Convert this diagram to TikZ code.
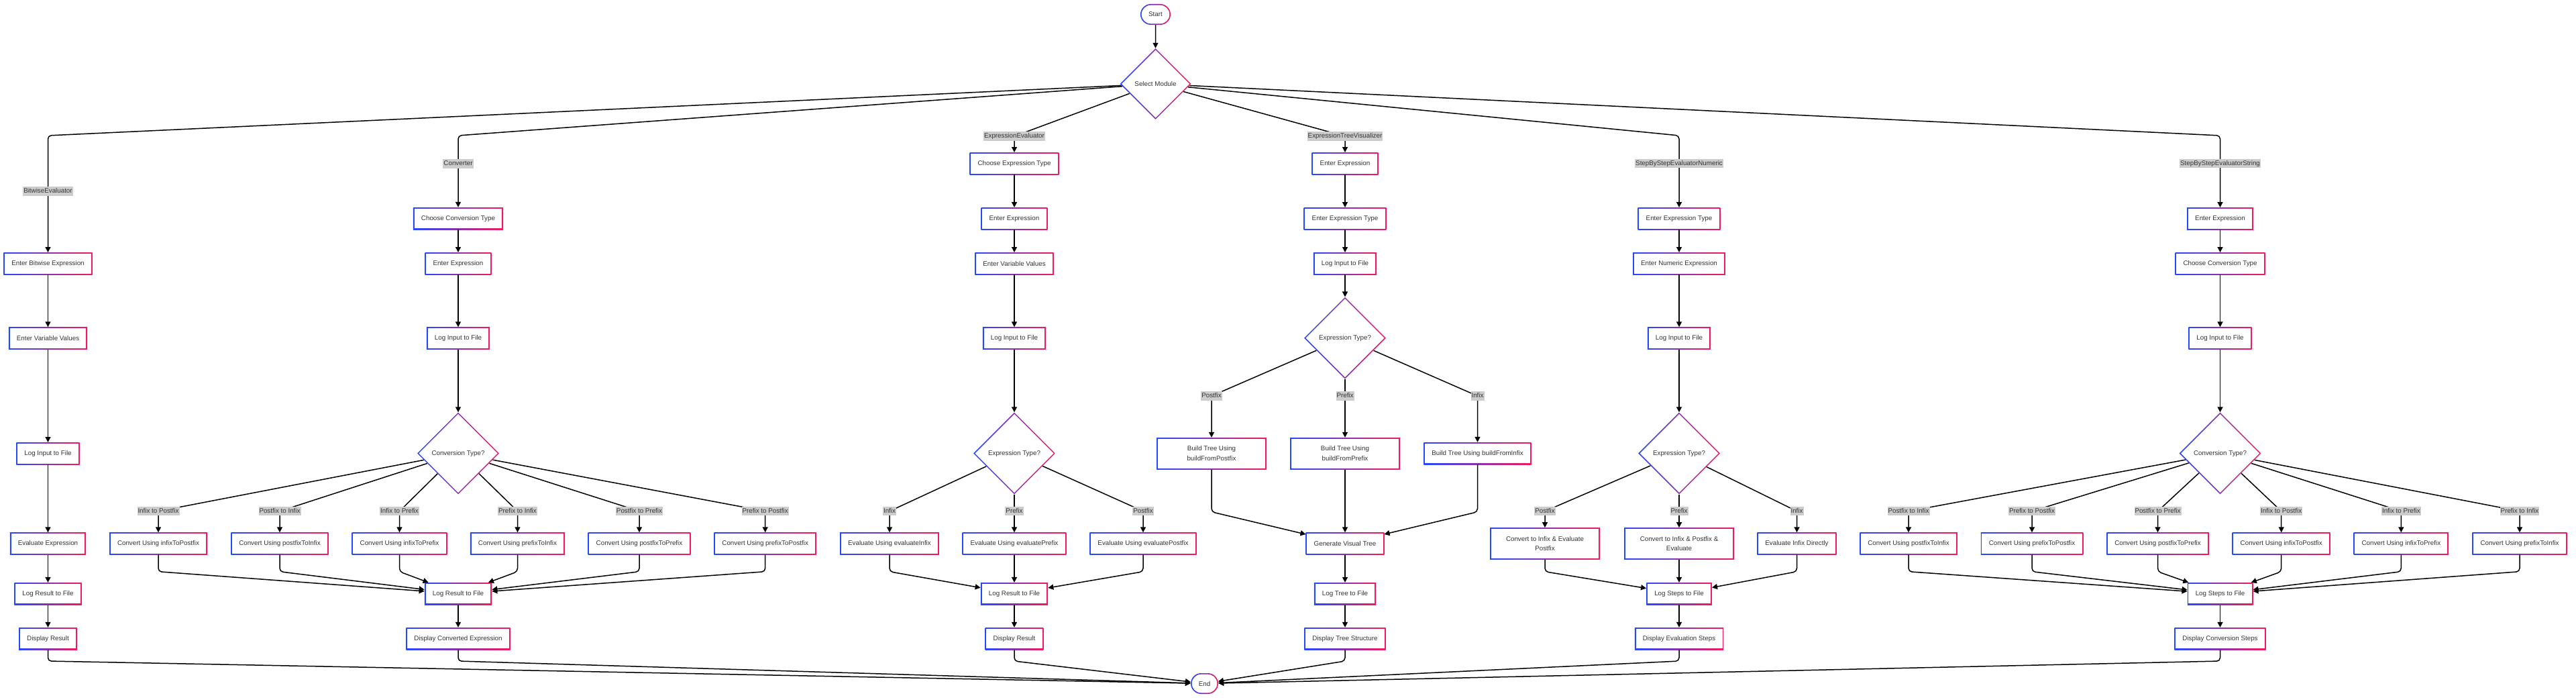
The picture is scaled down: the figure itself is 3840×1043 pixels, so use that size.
\documentclass[tikz,border=0pt]{standalone}
\usepackage{fontspec}
\setmainfont{Liberation Sans}
\usetikzlibrary{shapes.geometric,shapes.misc,arrows.meta}
\definecolor{cblue}{HTML}{2448FF}
\definecolor{cred}{HTML}{F5195A}
\definecolor{txt}{HTML}{333333}
\definecolor{lgray}{HTML}{CCCCCC}
\newcommand{\nf}{\fontsize{9.8}{14.7}\selectfont}
\tikzset{
 gbox/.style={rectangle, minimum height=33pt, inner xsep=12pt, inner ysep=3pt, font=\nf, text=txt, align=center,
   left color=cblue, right color=cred,
   path picture={\fill[white] ([shift={(1.7pt,1.7pt)}]path picture bounding box.south west) rectangle ([shift={(-1.7pt,-1.7pt)}]path picture bounding box.north east);}},
 tall/.style={minimum height=47.3pt, minimum width=164pt},
 gdia/.style={diamond, aspect=1, minimum width=122pt, minimum height=122pt, inner sep=0pt, font=\nf, text=txt,
   left color=cblue, right color=cred,
   path picture={\fill[white] ([yshift=-2.4pt]path picture bounding box.north) -- ([xshift=-2.4pt]path picture bounding box.east) -- ([yshift=2.4pt]path picture bounding box.south) -- ([xshift=2.4pt]path picture bounding box.west) -- cycle;}},
 gterm/.style={rounded rectangle, minimum height=31pt, inner xsep=2pt, font=\nf, text=txt,
   left color=cblue, right color=cred,
   path picture={\fill[white, rounded corners=13.8pt] ([shift={(1.7pt,1.7pt)}]path picture bounding box.south west) rectangle ([shift={(-1.7pt,-1.7pt)}]path picture bounding box.north east);}},
 elab/.style={fill=lgray, text=txt, font=\nf, inner xsep=1pt, inner ysep=1.5pt, text height=8pt, text depth=2.4pt},
 arr/.style={draw=black, line width=1.5pt, rounded corners=5pt, -{Triangle[length=8pt,width=8pt]}},
}
\begin{document}
\begin{tikzpicture}[x=1pt,y=-1pt]
\useasboundingbox (0,0) rectangle (3840,1043);
\fill[white] (0,0) rectangle (3840,1043);
% ---------- nodes ----------
\node[gterm, minimum width=49pt] (start) at (1722.5,21.5) {Start};
\node[gdia, minimum width=106pt, minimum height=106pt] (sel) at (1722.5,125) {Select Module};
% A Bitwise
\node[gbox] (A1) at (71.5,392.7) {Enter Bitwise Expression};
\node[gbox] (A2) at (71.5,504) {Enter Variable Values};
\node[gbox] (A3) at (71.5,675.7) {Log Input to File};
\node[gbox] (A4) at (71.5,810) {Evaluate Expression};
\node[gbox] (A5) at (71.5,884.6) {Log Result to File};
\node[gbox] (A6) at (71.5,951.5) {Display Result};
% B Converter
\node[gbox] (B1) at (683,325.5) {Choose Conversion Type};
\node[gbox] (B2) at (683,392.7) {Enter Expression};
\node[gbox] (B3) at (683,504) {Log Input to File};
\node[gdia] (Bd) at (683,675.5) {Conversion Type?};
\node[gbox] (B4a) at (236,810) {Convert Using infixToPostfix};
\node[gbox] (B4b) at (417,810) {Convert Using postfixToInfix};
\node[gbox] (B4c) at (595.5,810) {Convert Using infixToPrefix};
\node[gbox] (B4d) at (771.5,810) {Convert Using prefixToInfix};
\node[gbox] (B4e) at (953,810) {Convert Using postfixToPrefix};
\node[gbox] (B4f) at (1140.7,810) {Convert Using prefixToPostfix};
\node[gbox] (B5) at (683,884.6) {Log Result to File};
\node[gbox] (B6) at (683,951.5) {Display Converted Expression};
% C ExpressionEvaluator
\node[gbox] (C1) at (1512,243.7) {Choose Expression Type};
\node[gbox] (C2) at (1512,325.7) {Enter Expression};
\node[gbox] (C3) at (1512,392.7) {Enter Variable Values};
\node[gbox] (C4) at (1512,504) {Log Input to File};
\node[gdia] (Cd) at (1512,675.5) {Expression Type?};
\node[gbox] (C4a) at (1326,810) {Evaluate Using evaluateInfix};
\node[gbox] (C4b) at (1512,810) {Evaluate Using evaluatePrefix};
\node[gbox] (C4c) at (1704,810) {Evaluate Using evaluatePostfix};
\node[gbox] (C5) at (1512,884.6) {Log Result to File};
\node[gbox] (C6) at (1512,951.5) {Display Result};
% D Tree
\node[gbox] (D1) at (2005,243.7) {Enter Expression};
\node[gbox] (D2) at (2005,325.7) {Enter Expression Type};
\node[gbox] (D3) at (2005,392.7) {Log Input to File};
\node[gdia] (Dd) at (2005,503.7) {Expression Type?};
\node[gbox,tall] (D4a) at (1806,675.7) {Build Tree Using\\buildFromPostfix};
\node[gbox,tall] (D4b) at (2005,675.7) {Build Tree Using\\buildFromPrefix};
\node[gbox] (D4c) at (2202.5,675.5) {Build Tree Using buildFromInfix};
\node[gbox] (D5) at (2005,810) {Generate Visual Tree};
\node[gbox] (D6) at (2005,884.6) {Log Tree to File};
\node[gbox] (D7) at (2005,951.5) {Display Tree Structure};
% E Numeric
\node[gbox] (E1) at (2503,325.7) {Enter Expression Type};
\node[gbox] (E2) at (2503,392.7) {Enter Numeric Expression};
\node[gbox] (E3) at (2503,504) {Log Input to File};
\node[gdia] (Ed) at (2503,675.5) {Expression Type?};
\node[gbox,tall] (E4a) at (2303,810) {Convert to Infix \& Evaluate\\Postfix};
\node[gbox,tall] (E4b) at (2503,810) {Convert to Infix \& Postfix \&\\Evaluate};
\node[gbox] (E4c) at (2678.5,810) {Evaluate Infix Directly};
\node[gbox] (E5) at (2503,884.6) {Log Steps to File};
\node[gbox] (E6) at (2503,951.5) {Display Evaluation Steps};
% F String
\node[gbox] (F1) at (3309.5,325.7) {Enter Expression};
\node[gbox] (F2) at (3309.5,392.7) {Choose Conversion Type};
\node[gbox] (F3) at (3309.5,504) {Log Input to File};
\node[gdia] (Fd) at (3309.5,675.5) {Conversion Type?};
\node[gbox] (F4a) at (2845,810) {Convert Using postfixToInfix};
\node[gbox] (F4b) at (3029,810) {Convert Using prefixToPostfix};
\node[gbox] (F4c) at (3216.5,810) {Convert Using postfixToPrefix};
\node[gbox] (F4d) at (3400.7,810) {Convert Using infixToPostfix};
\node[gbox] (F4e) at (3579.3,810) {Convert Using infixToPrefix};
\node[gbox] (F4f) at (3756,810) {Convert Using prefixToInfix};
\node[gbox] (F5) at (3309.5,884.6) {Log Steps to File};
\node[gbox] (F6) at (3309.5,951.5) {Display Conversion Steps};
% End
\node[gterm, minimum width=45pt] (End) at (1795.5,1018.5) {End};
% ---------- edges ----------
\draw[arr] (start) -- (sel);
\draw[arr] (sel) -- (71.5,202) -- (A1);
\draw[arr] (sel) -- (683,202) -- (B1);
\draw[arr] (sel) -- (1512,203) -- (C1);
\draw[arr] (sel) -- (2005,203) -- (D1);
\draw[arr] (sel) -- (2503,202) -- (E1);
\draw[arr] (sel) -- (3309.5,202) -- (F1);
\foreach \a/\b in {A1/A2,A2/A3,A3/A4,A4/A5,A5/A6,
  B1/B2,B2/B3,B3/Bd,B5/B6,
  C1/C2,C2/C3,C3/C4,C4/Cd,C5/C6,
  D1/D2,D2/D3,D3/Dd,D5/D6,D6/D7,
  E1/E2,E2/E3,E3/Ed,E5/E6,
  F1/F2,F2/F3,F3/Fd,F5/F6}
  {\draw[arr] (\a) -- (\b);}
% diamond branches
\foreach \n/\x in {B4a/236,B4b/417,B4c/595.5,B4d/771.5,B4e/953,B4f/1140.7}
  {\draw[arr] (Bd) -- (\x,761.7) -- (\n);
   \draw[arr] (\n.south) -- (\n.south |- 0,851.7) -- (B5);}
\foreach \n/\x in {C4a/1326,C4b/1512,C4c/1704}
  {\draw[arr] (Cd) -- (\x,761.7) -- (\n);
   \draw[arr] (\n.south) -- (\n.south |- 0,851.7) -- (C5);}
\foreach \n/\x in {D4a/1806,D4b/2005,D4c/2202.5}
  {\draw[arr] (Dd) -- (\x,590) -- (\n);
   \draw[arr] (\n.south) -- (\n.south |- 0,762.7) -- (D5);}
\foreach \n/\x in {E4a/2303,E4b/2503,E4c/2678.5}
  {\draw[arr] (Ed) -- (\x,761.7) -- (\n);
   \draw[arr] (\n.south) -- (\n.south |- 0,851.7) -- (E5);}
\foreach \n/\x in {F4a/2845,F4b/3029,F4c/3216.5,F4d/3400.7,F4e/3579.3,F4f/3756}
  {\draw[arr] (Fd) -- (\x,761.7) -- (\n);
   \draw[arr] (\n.south) -- (\n.south |- 0,851.7) -- (F5);}
\foreach \n in {A6,B6,C6,D7,E6,F6}
  {\draw[arr] (\n.south) -- (\n.south |- 0,985) -- (End);}
% ---------- edge labels ----------
\node[elab] (lA) at (71.5,285) {BitwiseEvaluator};
\node[elab] (lB) at (683,244) {Converter};
\node[elab] (lC) at (1512,203) {ExpressionEvaluator};
\node[elab] (lD) at (2005,203) {ExpressionTreeVisualizer};
\node[elab] (lE) at (2503,243.7) {StepByStepEvaluatorNumeric};
\node[elab] (lF) at (3309.5,243.7) {StepByStepEvaluatorString};
\node[elab] (lB4a) at (236,761.7) {Infix to Postfix};
\node[elab] (lB4b) at (417,761.7) {Postfix to Infix};
\node[elab] (lB4c) at (595.5,761.7) {Infix to Prefix};
\node[elab] (lB4d) at (771.5,761.7) {Prefix to Infix};
\node[elab] (lB4e) at (953,761.7) {Postfix to Prefix};
\node[elab] (lB4f) at (1140.7,761.7) {Prefix to Postfix};
\node[elab] (lC4a) at (1326,761.7) {Infix};
\node[elab] (lC4b) at (1512,761.7) {Prefix};
\node[elab] (lC4c) at (1704,761.7) {Postfix};
\node[elab] (lD4a) at (1806,590) {Postfix};
\node[elab] (lD4b) at (2005,590) {Prefix};
\node[elab] (lD4c) at (2202.5,590) {Infix};
\node[elab] (lE4a) at (2303,761.7) {Postfix};
\node[elab] (lE4b) at (2503,761.7) {Prefix};
\node[elab] (lE4c) at (2678.5,761.7) {Infix};
\node[elab] (lF4a) at (2845,761.7) {Postfix to Infix};
\node[elab] (lF4b) at (3029,761.7) {Prefix to Postfix};
\node[elab] (lF4c) at (3216.5,761.7) {Postfix to Prefix};
\node[elab] (lF4d) at (3400.7,761.7) {Infix to Postfix};
\node[elab] (lF4e) at (3579.3,761.7) {Infix to Prefix};
\node[elab] (lF4f) at (3756,761.7) {Prefix to Infix};
\end{tikzpicture}
\end{document}
